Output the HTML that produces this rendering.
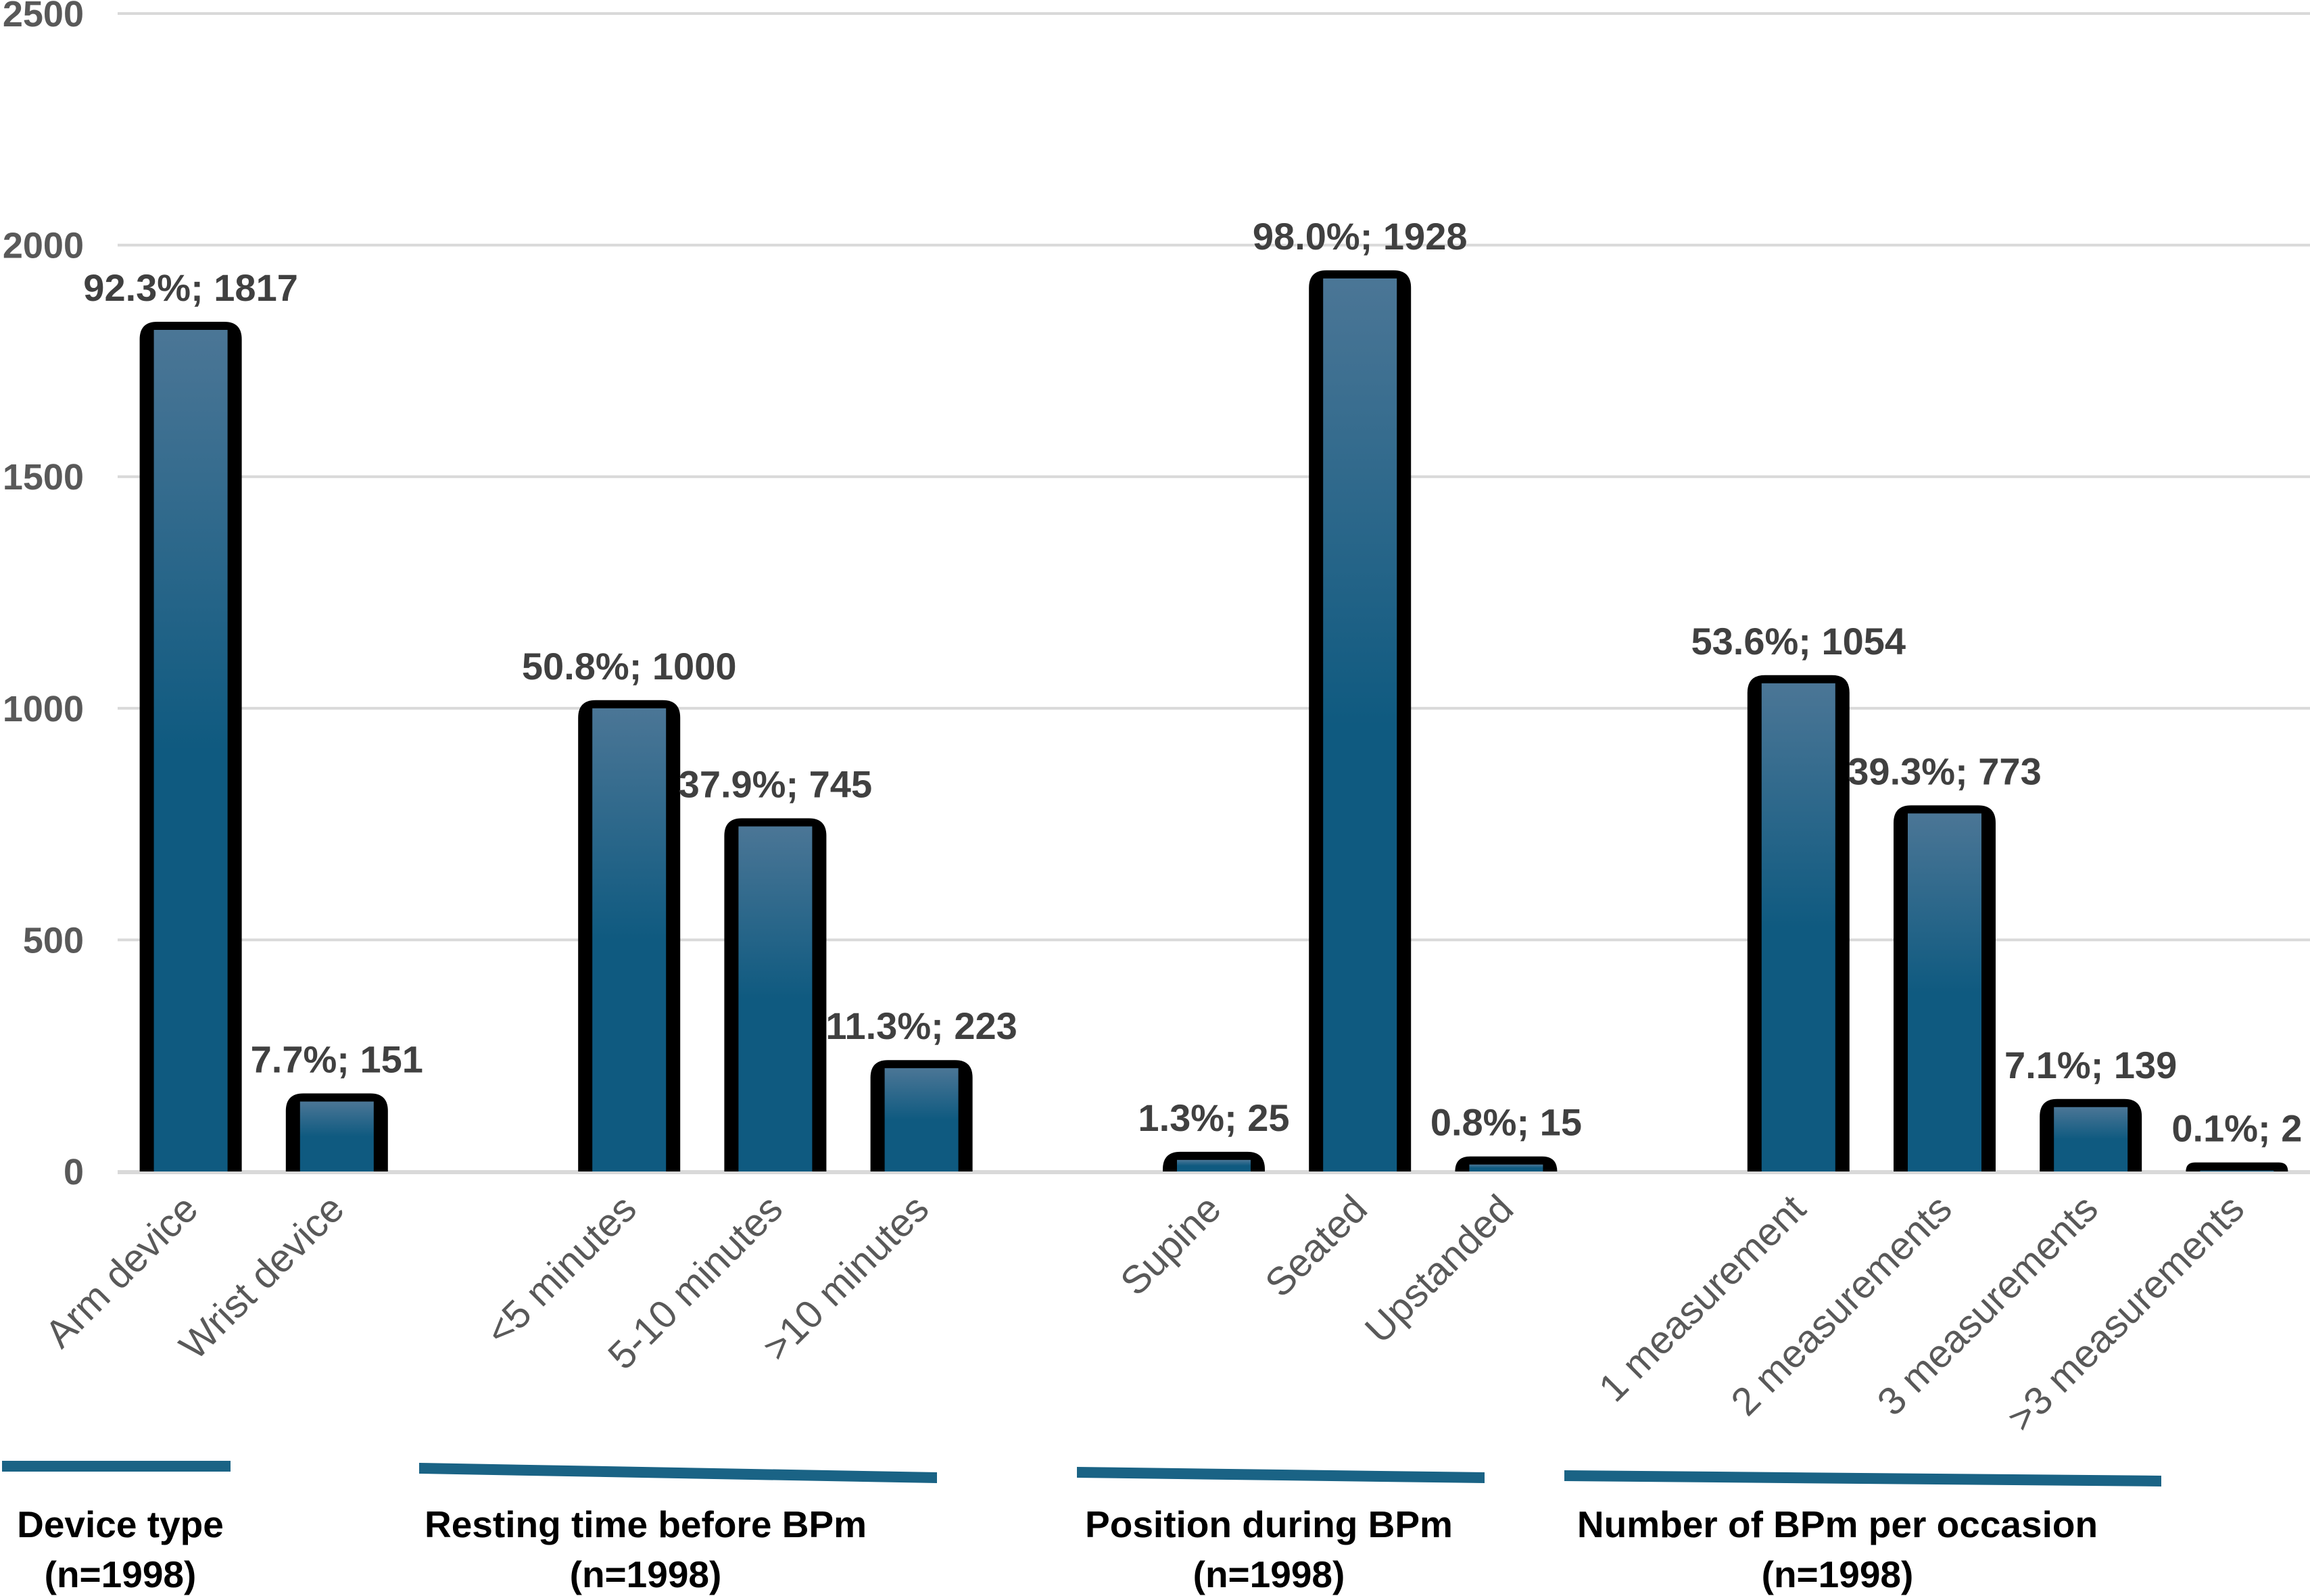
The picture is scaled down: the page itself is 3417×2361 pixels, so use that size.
<!DOCTYPE html>
<html><head><meta charset="utf-8"><style>
html,body{margin:0;padding:0;background:#fff;}
svg{display:block;}
</style></head><body>
<svg id="chart" width="3417" height="2361" viewBox="0 0 3417 2361" xmlns="http://www.w3.org/2000/svg">
<defs>
<linearGradient id="barGrad" x1="0" y1="0" x2="0" y2="1">
<stop offset="0" stop-color="#4b7696"/>
<stop offset="0.5" stop-color="#0f5a80"/>
<stop offset="1" stop-color="#0f5a80"/>
</linearGradient>
</defs>
<g id="grid"></g>
<g id="bars"></g>
<g id="labels"></g>
<g id="cats"></g>
<g id="groups"></g>
</svg>
<script>
const categories = ["Arm device","Wrist device","","<5 minutes","5-10 minutes",">10 minutes","","Supine","Seated","Upstanded","","1 measurement","2 measurements","3 measurements",">3 measurements"];
const counts = [1817,151,null,1000,745,223,null,25,1928,15,null,1054,773,139,2];
const percents = ["92.3%","7.7%",null,"50.8%","37.9%","11.3%",null,"1.3%","98.0%","0.8%",null,"53.6%","39.3%","7.1%","0.1%"];
const yTicks = [0,500,1000,1500,2000,2500];
const groupTitles = ["Device type","Resting time before BPm","Position during BPm","Number of BPm per occasion"];
const groupNs = ["(n=1998)","(n=1998)","(n=1998)","(n=1998)"];

const NS="http://www.w3.org/2000/svg";
const plotLeft=174, plotRight=3417, y0=1733, yTop=20, yMax=2500;
const slot=(plotRight-plotLeft)/categories.length;
function xC(i){return plotLeft+slot*(i+0.5);}
function yS(v){return y0-(v/yMax)*(y0-yTop);}
function mk(tag,attrs,parent){const e=document.createElementNS(NS,tag);for(const k in attrs)e.setAttribute(k,attrs[k]);parent.appendChild(e);return e;}
const FONT='"Liberation Sans", Arial, sans-serif';

const grid=document.getElementById('grid');
yTicks.forEach(t=>{
  const l=mk('line',{x1:plotLeft,x2:plotRight,y1:yS(t),y2:yS(t),stroke:'#d9d9d9','stroke-width':4},grid);
  
  
  const tx=mk('text',{x:124,y:yS(t)+19,'text-anchor':'end','font-family':FONT,'font-weight':'bold','font-size':54,fill:'#595959'},grid);
  tx.textContent=t;
  
  
});

const bars=document.getElementById('bars'), labels=document.getElementById('labels'), cats=document.getElementById('cats');
const W=151, side=21, topT=12, r=26;
counts.forEach((v,i)=>{
  if(v===null)return;
  const cx=xC(i), yv=yS(v), top=yv-topT, left=cx-W/2;
  const h=Math.max(y0-top,0);
  const rr=Math.min(r,h);
  const outer=mk('path',{d:`M${left},${y0} L${left},${top+rr} Q${left},${top} ${left+rr},${top} L${left+W-rr},${top} Q${left+W},${top} ${left+W},${top+rr} L${left+W},${y0} Z`,fill:'#000'},bars);
  
  
  const ih=y0-yv;
  if(ih>0){
    const inner=mk('rect',{x:left+side,y:yv,width:W-2*side,height:ih,fill:'url(#barGrad)'},bars);
    
    
  }
  const t=mk('text',{x:cx,y:top-31,'text-anchor':'middle','font-family':FONT,'font-weight':'bold','font-size':56,fill:'#404040'},labels);
  t.textContent=percents[i]+'; '+v;
  
  
});
categories.forEach((c,i)=>{
  if(!c)return;
  const x=xC(i)+14, y=1792;
  const t=mk('text',{x:x,y:y,'text-anchor':'end','font-family':FONT,'font-size':58,fill:'#595959',transform:`rotate(-45 ${x} ${y})`},cats);
  t.textContent=c;
  
  
});
const axis=mk('line',{x1:plotLeft,x2:plotRight,y1:y0+2,y2:y0+2,stroke:'#d9d9d9','stroke-width':4},bars);



const groups=document.getElementById('groups');
const lines=[[3,341,2161,2161],[620,1386,2164,2178],[1593,2196,2170,2178],[2314,3197,2175,2183]];
const titleX=[178,955,1877,2718];
lines.forEach((L,g)=>{
  const p=mk('polygon',{points:`${L[0]},${L[2]} ${L[1]},${L[3]} ${L[1]},${L[3]+16} ${L[0]},${L[2]+16}`,fill:'#1a6385'},groups);
  
  
  const t1=mk('text',{x:titleX[g],y:2274,'text-anchor':'middle','font-family':FONT,'font-weight':'bold','font-size':55,fill:'#000'},groups);
  t1.textContent=groupTitles[g];
  
  
  const t2=mk('text',{x:titleX[g],y:2348,'text-anchor':'middle','font-family':FONT,'font-weight':'bold','font-size':55,fill:'#000'},groups);
  t2.textContent=groupNs[g];
  
  
});
</script>
</body></html>
